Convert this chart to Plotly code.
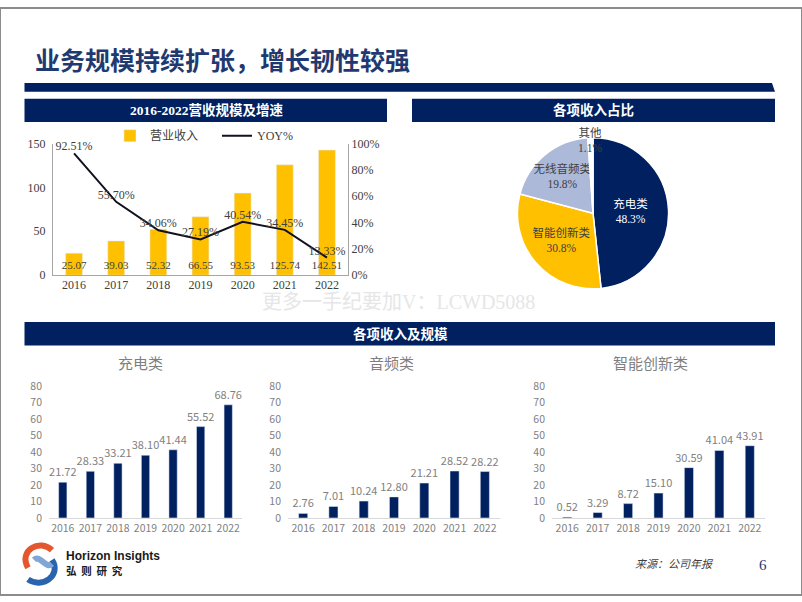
import plotly.graph_objects as go

W, H = 802, 602

years = ["2016", "2017", "2018", "2019", "2020", "2021", "2022"]
revenue = [25.07, 39.03, 52.32, 66.55, 93.53, 125.74, 142.51]
yoy = [0.9251, 0.5570, 0.3406, 0.2719, 0.4054, 0.3445, 0.1333]

share_labels = ["充电类", "智能创新类", "无线音频类", "其他"]
share_values = [48.3, 30.8, 19.8, 1.1]

charging = [21.72, 28.33, 33.21, 38.10, 41.44, 55.52, 68.76]
audio = [2.76, 7.01, 10.24, 12.80, 21.21, 28.52, 28.22]
smart = [0.52, 3.29, 8.72, 15.10, 30.59, 41.04, 43.91]

NAVY = "#002060"
TITLE = "#1F3A70"
GOLD = "#FFC000"
LIGHT = "#ADB9D9"
GRAY = "#7F7F7F"
DARK = "#404040"
SERIF = "Liberation Serif, Noto Sans CJK SC"
SANS = "Noto Sans CJK SC"


def px(x):
    return x / W


def py(y):
    return 1 - y / H


fig = go.Figure()

# revenue + yoy
fig.add_trace(go.Bar(
    x=years, y=revenue, name="营业收入", marker_color=GOLD, width=0.4,
    text=[f"{v:.2f}" for v in revenue], textposition="inside",
    insidetextanchor="start", constraintext="none", textangle=0,
    insidetextfont=dict(family=SERIF, size=12, color=DARK),
    xaxis="x", yaxis="y", hoverinfo="skip"))
fig.add_trace(go.Scatter(
    x=years, y=yoy, name="YOY%", mode="lines+text",
    line=dict(color="#111122", width=2),
    text=[f"{v * 100:.2f}%" for v in yoy], textposition="top center",
    textfont=dict(family=SERIF, size=12, color=DARK), cliponaxis=False,
    xaxis="x", yaxis="y2", hoverinfo="skip"))

# pie
fig.add_trace(go.Pie(
    labels=share_labels, values=share_values, sort=False,
    direction="clockwise", rotation=0,
    marker=dict(colors=[NAVY, GOLD, LIGHT, "#FFFFFF"],
                line=dict(color="white", width=1.5)),
    texttemplate="%{label}<br>%{value:.1f}%",
    textposition=["inside", "inside", "inside", "none"],
    insidetextorientation="horizontal",
    textfont=dict(family=SERIF, size=11.5,
                  color=["white", DARK, DARK, DARK]),
    domain=dict(x=[px(515), px(671)], y=[py(288), py(133)]),
    showlegend=False, hoverinfo="skip"))

# three small bar charts
small = [(charging, 3), (audio, 4), (smart, 5)]
for vals, n in small:
    fig.add_trace(go.Bar(
        x=years, y=vals, marker_color=NAVY, width=0.3,
        text=[f"{v:.2f}" for v in vals], textposition="outside",
        constraintext="none", cliponaxis=False, textangle=0,
        textfont=dict(family=SANS, size=11, color=GRAY),
        xaxis=f"x{n}", yaxis=f"y{n}", showlegend=False, hoverinfo="skip"))

axis_font = dict(family=SERIF, size=12, color=DARK)
small_font = dict(family=SANS, size=10.5, color=GRAY)

layout = dict(
    width=W, height=H, margin=dict(l=0, r=0, t=0, b=0),
    paper_bgcolor="white", plot_bgcolor="white",
    showlegend=True,
    uniformtext=dict(minsize=11, mode="show"),
    legend=dict(orientation="h", x=px(110), y=py(131), xanchor="left",
                yanchor="middle", font=dict(family=SERIF, size=12, color=DARK),
                bgcolor="rgba(0,0,0,0)", entrywidth=62),
    xaxis=dict(domain=[px(53), px(348)], type="category", anchor="y",
               showline=True, linecolor="#A6A6A6", ticks="",
               tickfont=axis_font, ticklabelstandoff=-2),
    yaxis=dict(domain=[py(274), py(139)], range=[0, 150],
               tickvals=[0, 50, 100, 150], showgrid=False, zeroline=False,
               showline=True, linecolor="#A6A6A6", tickfont=axis_font,
               ticklabelstandoff=4, anchor="x"),
    yaxis2=dict(overlaying="y", side="right", range=[0, 1], dtick=0.2,
                tickformat=".0%", showgrid=False, zeroline=False,
                showline=True, linecolor="#A6A6A6", tickfont=axis_font,
                anchor="x"),
)

xdoms = {3: (49, 242), 4: (288, 500), 5: (552, 765)}
for n, (a, b) in xdoms.items():
    layout[f"xaxis{n}"] = dict(domain=[px(a), px(b)], type="category",
                               anchor=f"y{n}", showline=True,
                               linecolor="#D9D9D9", ticks="",
                               tickfont=small_font)
    layout[f"yaxis{n}"] = dict(domain=[py(523), py(388)], range=[0, 80],
                               dtick=10, showgrid=False, zeroline=False,
                               showline=False, tickfont=small_font,
                               ticklabelstandoff=6, anchor=f"x{n}")

fig.update_layout(**layout)


def rect(x0, y0, x1, y1, color):
    fig.add_shape(type="rect", xref="paper", yref="paper",
                  x0=px(x0), x1=px(x1), y0=py(y1), y1=py(y0),
                  fillcolor=color, line_width=0, layer="below")


# slide frame
fig.add_shape(type="rect", xref="paper", yref="paper", x0=0, x1=1, y0=0, y1=1,
              line=dict(color="#8C8C8C", width=2))

# band under title with slanted end
band = [(24.5, 77), (772, 77), (775, 86), (24.5, 86)]
fig.add_shape(type="path", xref="paper", yref="paper",
              path="M " + " L ".join(f"{px(x):.5f},{py(y):.5f}" for x, y in band) + " Z",
              fillcolor=NAVY, line_width=0)

rect(24.5, 93, 387, 117, NAVY)
rect(412, 93, 775, 117, NAVY)
rect(24.5, 322, 775, 346, NAVY)


def note(x, y, text, size, color, family=SANS, anchor="center"):
    fig.add_annotation(xref="paper", yref="paper", x=px(x), y=py(y),
                       text=text, showarrow=False, xanchor=anchor,
                       yanchor="middle", font=dict(family=family, size=size,
                                                   color=color))


note(33, 52, "<b>业务规模持续扩张，增长韧性较强</b>", 25, TITLE, anchor="left")
note(206, 105, "<b>2016-2022营收规模及增速</b>", 13.5, "white", family=SERIF)
note(593, 105, "<b>各项收入占比</b>", 13.5, "white", family=SERIF)
note(400, 334, "<b>各项收入及规模</b>", 13.5, "white", family=SERIF)

note(140, 364, "充电类", 15, GRAY)
note(391, 364, "音频类", 15, GRAY)
note(650, 364, "智能创新类", 15, GRAY)

# small outside label for the tiny slice
note(590, 136, f"{share_labels[3]}<br>{share_values[3]:.1f}%", 11.5, DARK,
     family=SERIF)

# watermark
note(398, 302, "更多一手纪要加V：LCWD5088", 20, "#E6E6E6", family=SERIF)

# footer
note(633, 570, "<i>来源：公司年报</i>", 11, DARK, family=SERIF, anchor="left")
note(763, 571, "6", 15, TITLE, family=SERIF)
note(64, 562, "<b>Horizon Insights</b>", 12, "#1A1A1A",
     family="Liberation Sans Narrow, Liberation Sans", anchor="left")
note(64, 577, "<b>弘  则  研  究</b>", 10.5, "#1A1A1A", anchor="left")


def curve(pts, color):
    (x0, y0), (x1, y1), (x2, y2), (x3, y3) = pts
    fig.add_shape(type="path", xref="paper", yref="paper",
                  path=(f"M {px(x0):.5f},{py(y0):.5f} C {px(x1):.5f},{py(y1):.5f} "
                        f"{px(x2):.5f},{py(y2):.5f} {px(x3):.5f},{py(y3):.5f}"),
                  line=dict(color=color, width=6))


curve([(52, 556), (40, 544), (18, 556), (28, 574)], "#E4572E")
curve([(28, 586), (42, 596), (62, 582), (52, 566)], "#2B64AE")
curve([(34, 566), (40, 560), (46, 576), (52, 570)], "#7FA6D6")

# pin the figure to the page corner so it fills the window exactly
pin = ("document.body.style.margin='0';document.body.style.overflow='hidden';"
       "var d=document.getElementById('{plot_id}');"
       "d.style.position='absolute';d.style.left='0px';d.style.top='0px';")
fig.write_html("out.html", post_script=pin, config={"displayModeBar": False})
